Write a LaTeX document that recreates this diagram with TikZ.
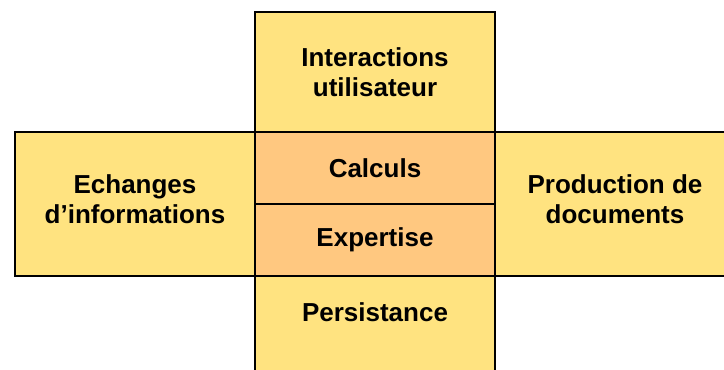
\documentclass[tikz,border=0pt]{standalone}
\usepackage{fontspec}
\setmainfont{Liberation Sans}
\usetikzlibrary{positioning}

\definecolor{boxyellow}{RGB}{255,227,128}
\definecolor{boxorange}{RGB}{255,200,128}

\begin{document}
\begin{tikzpicture}[x=1pt, y=-1pt,
        cell/.style={draw=black, line width=1.5pt, outer sep=0pt, inner sep=0pt,
            minimum width=240pt, align=center,
            font=\fontsize{26}{30}\selectfont\bfseries},
        outer/.style={cell, fill=boxyellow},
        inner/.style={cell, fill=boxorange, minimum height=72pt}]
            \useasboundingbox (0,0) rectangle (724,370);
            \clip (0,0) rectangle (724,370);

            \node[inner] (calculs) at (375,168) {Calculs};
            \node[inner, below=0pt of calculs] (expertise) {Expertise};
            \node[outer, minimum height=120pt, above=0pt of calculs] (interactions) {Interactions\\utilisateur};
            \node[outer, minimum height=144pt, text depth=10pt, anchor=north east] (echanges) at (calculs.north west) {Echanges\\d'informations};
            \node[outer, minimum height=144pt, text depth=10pt, anchor=north west] (production) at (calculs.north east) {Production de\\documents};

            \draw[outer] (expertise.south west) rectangle ++(240,120);
            \node[cell, draw=none, minimum height=72pt, below=0pt of expertise] (persistance) {Persistance};
        \end{tikzpicture}
\end{document}
